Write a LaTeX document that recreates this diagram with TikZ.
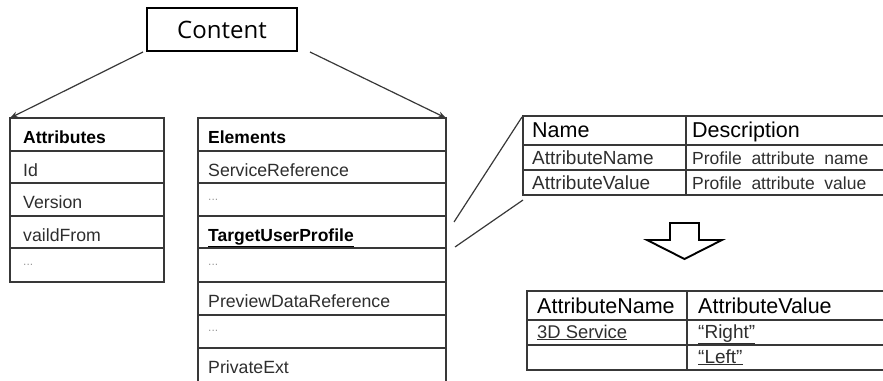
\documentclass[tikz,border=0pt]{standalone}
\usepackage{fontspec}
\setmainfont{Liberation Sans}
\newfontfamily\titlefont{Open Sans}
\usetikzlibrary{arrows.meta}

\definecolor{rule}{HTML}{383838}
\definecolor{ink}{HTML}{2E2E2E}
\definecolor{dotgray}{HTML}{9A9A9A}

\begin{document}
\begin{tikzpicture}[x=1pt,y=-1pt,
  grid/.style={draw=rule, line width=1.6pt},
  link/.style={draw=rule, line width=1.2pt},
  cell/.style={anchor=base west, inner sep=0pt, text=ink,
               font=\fontsize{17.7}{20}\selectfont},
  head/.style={cell, text=black, font=\fontsize{17.5}{20}\selectfont\bfseries},
  bighead/.style={cell, text=black, font=\fontsize{21.5}{24}\selectfont},
  small/.style={cell, font=\fontsize{17.5}{20}\selectfont},
  mid/.style={cell, font=\fontsize{19}{20}\selectfont},
  dots/.style={cell, text=dotgray, font=\fontsize{12}{14}\selectfont},
  tip/.style={-{Stealth[length=8pt,width=6pt]}}]

\useasboundingbox (0,0) rectangle (883,380);

% root box
\node[draw=black, line width=2.4pt, minimum width=150pt, minimum height=43pt,
      inner sep=0pt, font=\titlefont\fontsize{24}{28}\selectfont]
      (content) at (222,29.5) {Content};

% connector end points
\coordinate (cL) at (143,52);
\coordinate (cR) at (310,52);
\coordinate (attrNW) at (10,118);
\coordinate (elemNE) at (446,118);
\draw[link, tip] (cL) -- (attrNW);
\draw[link, tip] (cR) -- (elemNE);

% Attributes table
\draw[grid] (10,118) rectangle (164,282);
\foreach \y in {151,183,216,248} \draw[grid] (10,\y) -- (164,\y);
\node[head] (attrH) at (23,143) {Attributes};
\node[cell] (attrId) at (23,176) {Id};
\node[cell] (attrVer) at (23,208) {Version};
\node[cell] (attrFrom) at (23,241) {vaildFrom};
\node[dots] (attrDots) at (23,265) {...};

% Elements table
\draw[grid] (198,384) -- (198,118) -- (446,118) -- (446,384);
\foreach \y in {151,183,216,248,282,315,348} \draw[grid] (198,\y) -- (446,\y);
\node[head] (elemH) at (208,143) {Elements};
\node[cell] (elemSR) at (208,176) {ServiceReference};
\node[dots] (elemD1) at (208,200) {...};
\node[cell, text=black, font=\fontsize{17.5}{20}\selectfont\bfseries]
      (elemTUP) at (208,241) {\underline{TargetUserProfile}};
\node[dots] (elemD2) at (208,265) {...};
\node[cell] (elemPDR) at (208,307) {PreviewDataReference};
\node[dots] (elemD3) at (208,331) {...};
\node[cell] (elemPE) at (208,373) {PrivateExt};

% zoom lines towards the profile table
\coordinate (zA) at (454,222);
\coordinate (zB) at (455,247);
\coordinate (pNW) at (522,117);
\coordinate (pSW) at (523,200);
\draw[link] (zA) -- (pNW);
\draw[link] (zB) -- (pSW);

% TargetUserProfile description table
\draw[grid] (884,116) -- (523,116) -- (523,195) -- (884,195);
\foreach \y in {145,170} \draw[grid] (523,\y) -- (884,\y);
\draw[grid] (686,116) -- (686,195);
\node[bighead] (pName) at (532,137) {Name};
\node[bighead] (pDesc) at (692,137) {Description};
\node[mid] (pAN) at (532,164) {AttributeName};
\node[small] (pAND) at (692,164) {Profile\ \ attribute\ \ name};
\node[mid] (pAV) at (532,189) {AttributeValue};
\node[small] (pAVD) at (692,189) {Profile\ \ attribute\ \ value};

% hollow down arrow
\draw[draw=black, line width=1.9pt, line join=miter, fill=white]
  (670,223) -- (699,223) -- (699,240) -- (722,240) -- (684.5,259)
  -- (647,240) -- (670,240) -- cycle;

% example values table
\draw[grid] (884,291) -- (527,291) -- (527,370) -- (884,370);
\foreach \y in {320,345} \draw[grid] (527,\y) -- (884,\y);
\draw[grid] (687,291) -- (687,370);
\node[bighead] (vAN) at (537,313) {AttributeName};
\node[bighead] (vAV) at (698,313) {AttributeValue};
\node[cell, font=\fontsize{18.4}{20}\selectfont] (v3D) at (537,338) {\underline{3D Service}};
\node[mid] (vRight) at (698,338) {\underline{“Right”}};
\node[mid] (vLeft) at (698,363) {\underline{“Left”}};

\end{tikzpicture}
\end{document}
